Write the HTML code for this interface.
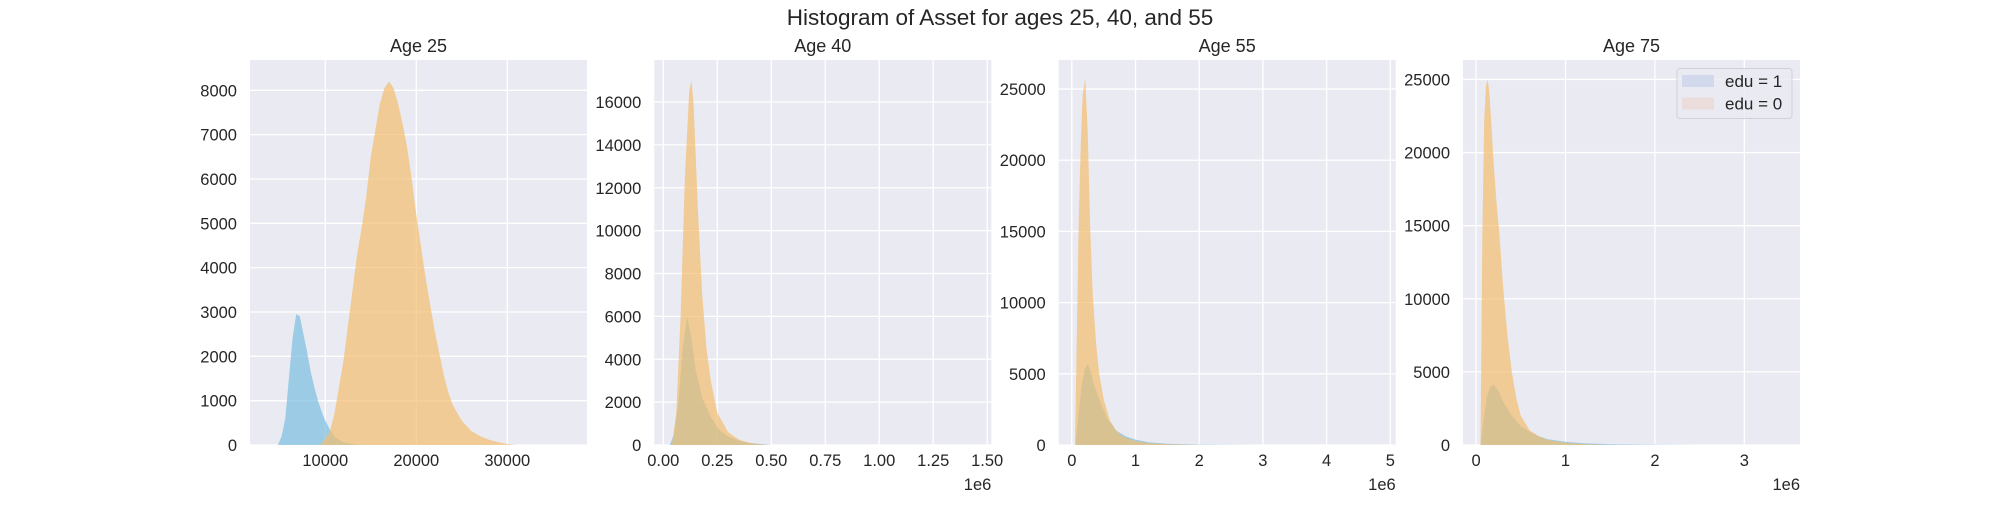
<!DOCTYPE html>
<html><head><meta charset="utf-8">
<style>
html,body{margin:0;padding:0;background:#fff;}
svg text{font-family:"Liberation Sans","DejaVu Sans",sans-serif;fill:#262626;}
</style></head>
<body>
<svg id="fig" width="2000" height="500" xmlns="http://www.w3.org/2000/svg">
<text x="1000" y="25" font-size="22.5" text-anchor="middle">Histogram of Asset for ages 25, 40, and 55</text>
</svg>
<script>
// ---- data (bin centers in asset units, counts) ----
const titles = ["Age 25","Age 40","Age 55","Age 75"];
const edu1X_25 = [4800,5200,5600,6000,6400,6800,7200,7600,8000,8400,8800,9200,9600,10000,10500,11000,11500,12000,13000,14000];
const edu1Y_25 = [0,200,600,1500,2400,2950,2900,2500,2100,1650,1300,1000,750,550,350,200,120,60,20,0];
const edu0X_25 = [9500,10500,11000,11500,12000,12500,13000,13500,14000,14500,15000,15500,16000,16500,17000,17500,18000,18500,19000,19500,20000,20500,21000,21500,22000,22500,23000,23500,24000,25000,26000,27000,28000,29000,30000,31000];
const edu0Y_25 = [0,300,700,1300,1900,2700,3500,4300,4900,5600,6500,7100,7700,8050,8200,8050,7700,7250,6700,6000,5200,4500,3800,3200,2600,2100,1600,1200,900,550,320,200,120,60,20,0];
const edu1X_40 = [30000,50000,70000,90000,110000,130000,150000,180000,220000,260000,300000,350000,400000,500000];
const edu1Y_40 = [0,500,2000,4500,6000,5000,3500,2200,1300,700,400,200,100,0];
const edu0X_40 = [40000,60000,80000,100000,120000,130000,140000,160000,180000,200000,220000,250000,300000,350000,400000,450000,500000];
const edu0Y_40 = [0,1500,6000,12500,16500,17000,16000,11000,7000,4500,3000,1500,600,250,100,30,0];
const edu1X_55 = [60000,100000,150000,200000,250000,300000,350000,450000,550000,700000,850000,1000000,1200000,1500000,2000000,2500000,3000000];
const edu1Y_55 = [0,2000,4000,5300,5700,5100,4200,3000,1900,1000,600,380,200,90,30,8,0];
const edu0X_55 = [50000,80000,110000,140000,170000,210000,250000,290000,330000,380000,430000,500000,600000,700000,800000,1000000,1200000,1500000,2000000];
const edu0Y_55 = [0,8000,16000,21000,24500,25800,22000,15000,10500,7200,5000,3200,1700,1000,600,280,130,50,0];
const edu1X_75 = [50000,80000,120000,160000,200000,250000,300000,400000,500000,600000,700000,800000,1000000,1200000,1500000,2000000,2500000];
const edu1Y_75 = [0,1500,3300,4000,4100,3700,3000,2000,1300,900,600,400,220,120,50,15,0];
const edu0X_75 = [50000,70000,90000,110000,130000,150000,170000,200000,230000,260000,300000,350000,400000,450000,500000,600000,700000,800000,1000000,1200000,1500000];
const edu0Y_75 = [0,14000,22000,24500,25000,24000,22000,19000,16500,14500,11000,7500,5000,3200,2000,1000,600,350,150,60,0];
const xTicks_25 = [10000,20000,30000];
const xTicks_40 = [0,250000,500000,750000,1000000,1250000,1500000];
const xTicks_55 = [0,1000000,2000000,3000000,4000000,5000000];
const xTicks_75 = [0,1000000,2000000,3000000];
const yTicks_25 = [0,1000,2000,3000,4000,5000,6000,7000,8000];
const yTicks_40 = [0,2000,4000,6000,8000,10000,12000,14000,16000];
const yTicks_55 = [0,5000,10000,15000,20000,25000];
const yTicks_75 = [0,5000,10000,15000,20000,25000];
const xLim = [[1725,38760],[-41700,1519000],[-206000,5085000],[-146000,3622000]];
const yLim = [8684,17960,27040,26330];
// ---- drawing ----
const NS="http://www.w3.org/2000/svg";
const svg=document.getElementById('fig');
const L=[250,654.3,1058.7,1463], W=337, T=60, B=445;
const panels=[
 {x1:edu1X_25,y1:edu1Y_25,x0:edu0X_25,y0:edu0Y_25,xt:xTicks_25,yt:yTicks_25,fmt:v=>String(v),off:false},
 {x1:edu1X_40,y1:edu1Y_40,x0:edu0X_40,y0:edu0Y_40,xt:xTicks_40,yt:yTicks_40,fmt:v=>(v/1e6).toFixed(2),off:true},
 {x1:edu1X_55,y1:edu1Y_55,x0:edu0X_55,y0:edu0Y_55,xt:xTicks_55,yt:yTicks_55,fmt:v=>String(v/1e6),off:true},
 {x1:edu1X_75,y1:edu1Y_75,x0:edu0X_75,y0:edu0Y_75,xt:xTicks_75,yt:yTicks_75,fmt:v=>String(v/1e6),off:true}];
function mk(tag,attrs,parent){const e=document.createElementNS(NS,tag);for(const k in attrs)e.setAttribute(k,attrs[k]);(parent||svg).appendChild(e);return e;}
panels.forEach((p,i)=>{
  const left=L[i];
  const xs=v=>left+(v-xLim[i][0])/(xLim[i][1]-xLim[i][0])*W;
  const ys=v=>B-v/yLim[i]*(B-T);
  const g=mk('g',{});
  
  
  const bg=mk('rect',{x:left,y:T,width:W,height:B-T,fill:'#eaeaf2'},g);
  
  
  p.xt.forEach(v=>{
    const X=xs(v);
    const gl=mk('line',{x1:X,x2:X,y1:T,y2:B,stroke:'#fff','stroke-width':1.3},g);
    
    
    const t=mk('text',{x:X,y:466,'font-size':16.5,'text-anchor':'middle'},g);
    t.textContent=p.fmt(v);
    
    
  });
  p.yt.forEach(v=>{
    const Y=ys(v);
    const gl=mk('line',{x1:left,x2:left+W,y1:Y,y2:Y,stroke:'#fff','stroke-width':1.3},g);
    
    
    const t=mk('text',{x:left-13,y:Y+6,'font-size':16.5,'text-anchor':'end'},g);
    t.textContent=String(v);
    
    
  });
  function area(xa,ya,col,name){
    let d='M'+xs(xa[0]).toFixed(1)+','+B;
    xa.forEach((x,k)=>{d+=' L'+xs(x).toFixed(1)+','+ys(ya[k]).toFixed(1);});
    d+=' L'+xs(xa[xa.length-1]).toFixed(1)+','+B+' Z';
    const e=mk('path',{d:d,fill:col,'fill-opacity':0.7},g);
    
    
  }
  area(p.x1,p.y1,'rgb(122,190,225)','hist-edu-1');
  area(p.x0,p.y0,'rgb(244,189,110)','hist-edu-0');
  const tt=mk('text',{x:left+W/2,y:52,'font-size':18,'text-anchor':'middle'},g);
  tt.textContent=titles[i];
  
  
  if(p.off){
    const o=mk('text',{x:left+W,y:490,'font-size':16.5,'text-anchor':'end'},g);
    o.textContent='1e6';
    
    
  }
});
</script>
<svg style="position:absolute;left:0;top:0" width="2000" height="500" xmlns="http://www.w3.org/2000/svg">
<g>
<rect x="1677" y="68.5" width="115" height="50" rx="3" fill="#eaeaf2" fill-opacity="0.8" stroke="#d0d0d8" stroke-width="1"/>
<rect x="1682" y="75" width="32" height="12" fill="#d3d9ec"/>
<text x="1725" y="87" font-size="17">edu = 1</text>
<rect x="1682" y="97.5" width="32" height="12" fill="#ecdcdc"/>
<text x="1725" y="109.5" font-size="17">edu = 0</text>
</g>
</svg>
</body></html>
